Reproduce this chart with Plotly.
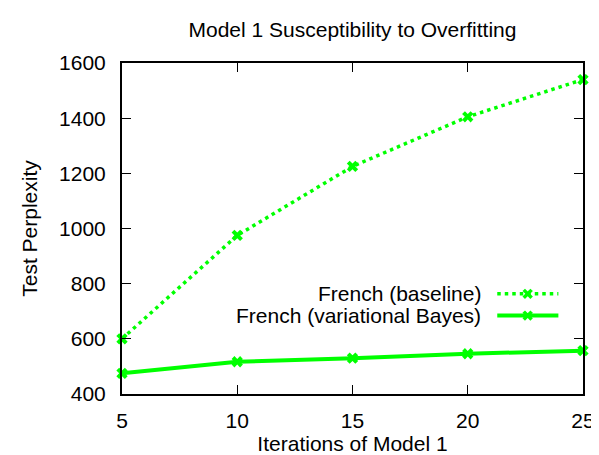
import plotly.graph_objects as go

iterations = [5, 10, 15, 20, 25]
baseline = [600, 975, 1225, 1405, 1540]
vb = [475, 517, 530, 546, 557]
series_names = ["French (baseline)", "French (variational Bayes)"]
x_ticks = [5, 10, 15, 20, 25]
y_ticks = [400, 600, 800, 1000, 1200, 1400, 1600]

GREEN = "#00ff00"
FONT = "Liberation Sans, Arial, Helvetica, sans-serif"
FS = 21
DOTS = "3.5px,4px"

fig = go.Figure()
fig.add_trace(go.Scatter(
    x=iterations, y=baseline, mode="lines+markers", name=series_names[0],
    line=dict(color=GREEN, width=3.5, dash=DOTS),
    marker=dict(symbol="x", size=10, color=GREEN),
    showlegend=False, cliponaxis=False))
fig.add_trace(go.Scatter(
    x=iterations, y=vb, mode="lines+markers", name=series_names[1],
    line=dict(color=GREEN, width=4),
    marker=dict(symbol="x", size=10, color=GREEN),
    showlegend=False, cliponaxis=False))

# custom gnuplot-style legend (text left of sample)
rows = [(0.3027, DOTS, 3.5), (0.237, "solid", 4)]
for (yp, dash, w), name in zip(rows, series_names):
    fig.add_annotation(x=0.784, y=yp, xref="paper", yref="paper", text=name,
                       showarrow=False, xanchor="right", yanchor="middle",
                       font=dict(family=FONT, size=FS, color="black"))
    fig.add_shape(type="line", xref="paper", yref="paper", x0=0.814, x1=0.9466,
                  y0=yp, y1=yp, line=dict(color=GREEN, width=w, dash=dash))
    xc = 0.880
    dx = 4 / 468
    dy = 4 / 337
    for s in (1, -1):
        fig.add_shape(type="line", xref="paper", yref="paper",
                      x0=xc - dx, x1=xc + dx, y0=yp - s * dy, y1=yp + s * dy,
                      line=dict(color=GREEN, width=3.5))

axis_common = dict(showgrid=False, zeroline=False, showline=True, linecolor="black",
                   linewidth=2, mirror="allticks", ticks="inside", ticklen=9,
                   tickwidth=1, tickcolor="black",
                   tickfont=dict(family=FONT, size=FS, color="black"))

fig.update_xaxes(range=[5, 25], tickvals=x_ticks, ticklabelstandoff=7,
                 title=dict(text="Iterations of Model 1", font=dict(family=FONT, size=FS, color="black"), standoff=4),
                 **axis_common)
fig.update_yaxes(range=[400, 1600], tickvals=y_ticks, ticklabelstandoff=10,
                 title=dict(text="Test Perplexity", font=dict(family=FONT, size=FS, color="black"), standoff=16),
                 **axis_common)

fig.update_layout(
    width=599, height=455,
    margin=dict(l=114, r=17, t=55, b=63),
    paper_bgcolor="white", plot_bgcolor="white",
    title=dict(text="Model 1 Susceptibility to Overfitting", xref="paper", x=0.5, xanchor="center",
               yref="container", y=1 - 22 / 455, yanchor="middle",
               font=dict(family=FONT, size=FS, color="black")),
    font=dict(family=FONT, size=FS, color="black"),
)

fig.write_html("out.html")
